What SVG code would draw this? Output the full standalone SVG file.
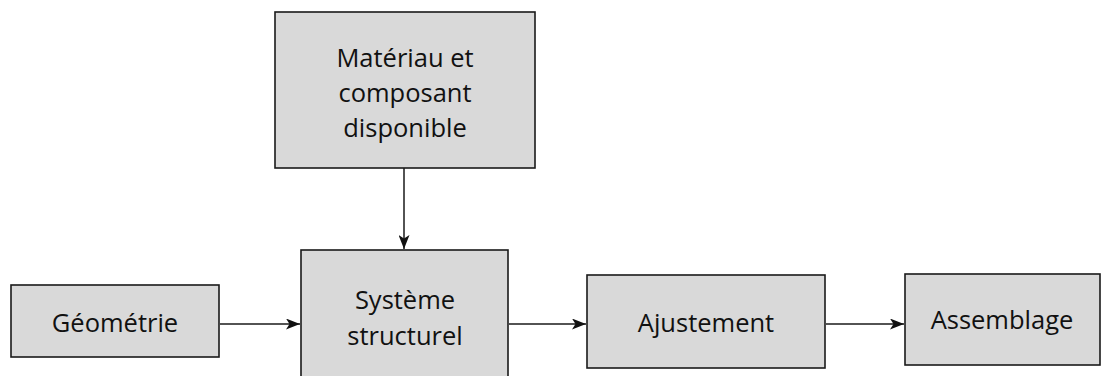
<svg xmlns="http://www.w3.org/2000/svg" width="1102" height="376" viewBox="0 0 1102 376">
  <style>
    .box { fill: #d9d9d9; stroke: #1a1a1a; stroke-width: 1.6; }
    .lbl { font-family: "Open Sans", "Liberation Sans", sans-serif; font-size: 25.5px; fill: #111; text-anchor: middle; }
    .wire { stroke: #1a1a1a; stroke-width: 1.5; fill: none; marker-end: url(#arrow); }
  </style>
  <defs>
    <marker id="arrow" viewBox="0 0 14 11" refX="14" refY="5.5" markerWidth="14" markerHeight="11" markerUnits="userSpaceOnUse" orient="auto">
      <path d="M0,0 L14,5.5 L0,11 L3.5,5.5 Z" fill="#111"/>
    </marker>
  </defs>

  <rect width="1102" height="376" fill="#fff"/>

  <g id="materiau">
    <rect class="box" x="275" y="12" width="260" height="156"/>
    <text class="lbl" x="405" y="67">Matériau et</text>
    <text class="lbl" x="405" y="102">composant</text>
    <text class="lbl" x="405" y="137">disponible</text>
  </g>

  <g id="geometrie">
    <rect class="box" x="11" y="285" width="208" height="72"/>
    <text class="lbl" x="115" y="332">Géométrie</text>
  </g>

  <g id="systeme">
    <rect class="box" x="301" y="250" width="207" height="130"/>
    <text class="lbl" x="405" y="309">Système</text>
    <text class="lbl" x="405" y="345">structurel</text>
  </g>

  <g id="ajustement">
    <rect class="box" x="587" y="275" width="238" height="93"/>
    <text class="lbl" x="706" y="332">Ajustement</text>
  </g>

  <g id="assemblage">
    <rect class="box" x="905" y="274" width="195" height="91"/>
    <text class="lbl" x="1002" y="329">Assemblage</text>
  </g>

  <g id="connectors">
    <line class="wire" x1="404" y1="168" x2="404" y2="249"/>
    <line class="wire" x1="220" y1="324" x2="300" y2="324"/>
    <line class="wire" x1="509" y1="324" x2="586" y2="324"/>
    <line class="wire" x1="826" y1="324" x2="904" y2="324"/>
  </g>
</svg>
